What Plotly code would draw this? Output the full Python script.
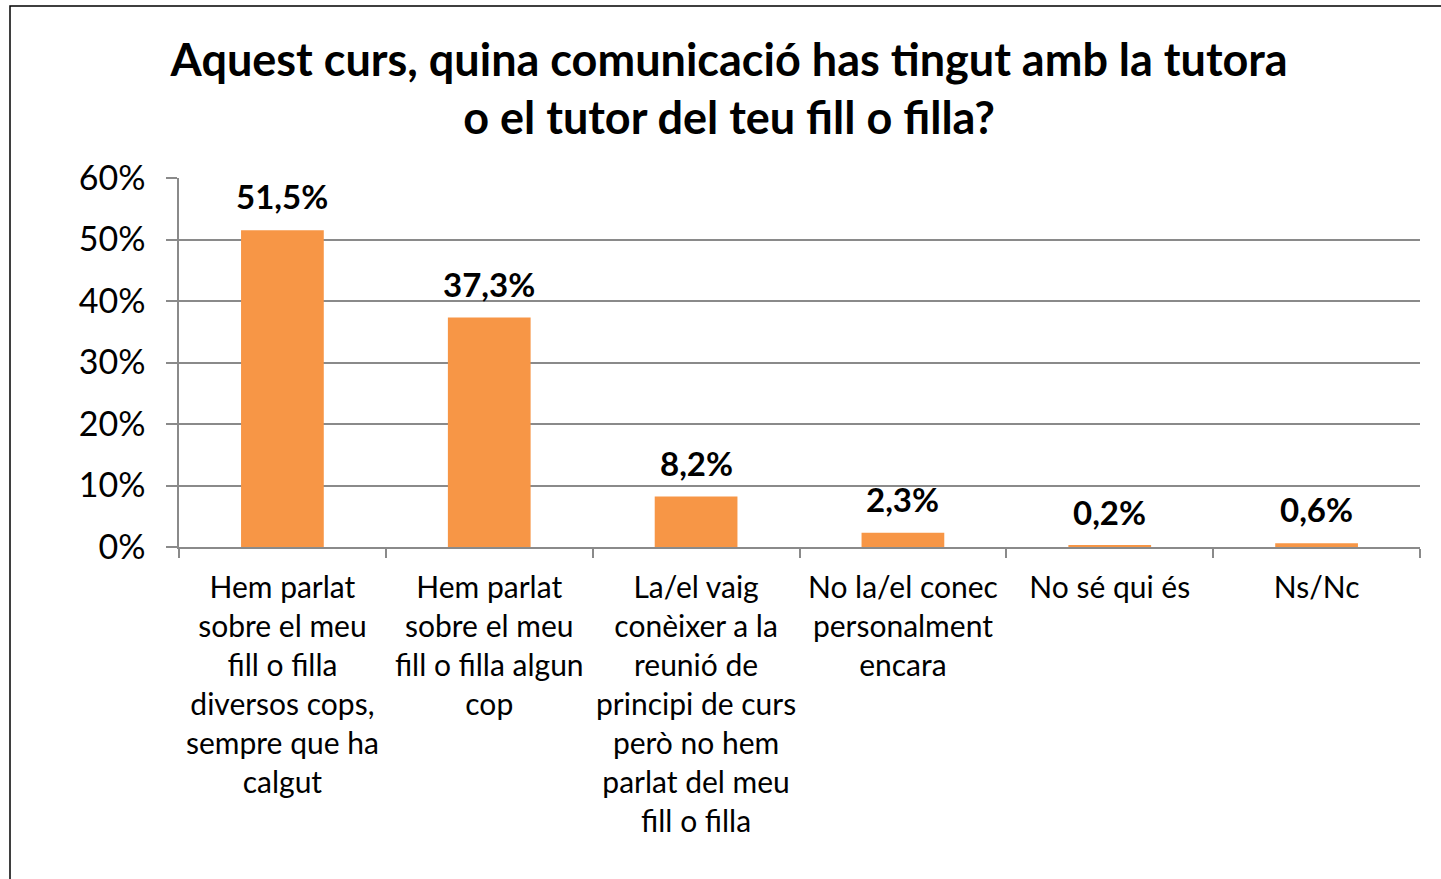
import plotly.graph_objects as go

# Data
categories = [
    "Hem parlat<br>sobre el meu<br>fill o filla<br>diversos cops,<br>sempre que ha<br>calgut",
    "Hem parlat<br>sobre el meu<br>fill o filla algun<br>cop",
    "La/el vaig<br>conèixer a la<br>reunió de<br>principi de curs<br>però no hem<br>parlat del meu<br>fill o filla",
    "No la/el conec<br>personalment<br>encara",
    "No sé qui és",
    "Ns/Nc",
]
values = [51.5, 37.3, 8.2, 2.3, 0.2, 0.6]
y_ticks = [0, 10, 20, 30, 40, 50, 60]
y_tick_text = [f"{t}%" for t in y_ticks]

title = "Aquest curs, quina comunicació has tingut amb la tutora<br>o el tutor del teu fill o filla?"

ORANGE = "#F79646"
GRID = "#8A8A8A"
FONT = "Lato"

labels = [f"{v:.1f}".replace(".", ",") + "%" for v in values]

fig = go.Figure()
fig.add_trace(go.Bar(
    x=categories,
    y=values,
    marker=dict(color=ORANGE, line=dict(width=0)),
    hoverinfo="skip",
))

for cat, v, lab in zip(categories, values, labels):
    fig.add_annotation(
        x=cat, y=v, text=f"<b>{lab}</b>",
        showarrow=False, yanchor="bottom", yshift=12,
        font=dict(family=FONT, size=33, color="#000000"),
    )

fig.update_layout(
    width=1441,
    height=879,
    paper_bgcolor="white",
    plot_bgcolor="white",
    showlegend=False,
    bargap=0.6,
    margin=dict(l=179, r=21, t=178, b=332),
    title=dict(
        text=f"<b>{title}</b>",
        x=0.506, xref="container", xanchor="center",
        y=0.914, yref="container", yanchor="middle",
        font=dict(family=FONT, size=45, color="#000000"),
    ),
    font=dict(family=FONT, color="#000000"),
    xaxis=dict(
        type="category",
        showline=True, linecolor=GRID, linewidth=1.5,
        ticks="outside", tickson="boundaries", ticklen=9,
        tickcolor=GRID, tickwidth=1.5,
        tickfont=dict(family=FONT, size=30, color="#000000"),
        ticklabelstandoff=13,
        showgrid=False,
        tickangle=0,
    ),
    yaxis=dict(
        range=[0, 60],
        tickvals=y_ticks,
        ticktext=y_tick_text,
        showline=True, linecolor=GRID, linewidth=1.5,
        ticks="outside", ticklen=11, tickcolor=GRID, tickwidth=1.5,
        ticklabelstandoff=14,
        showgrid=True, gridcolor=GRID, gridwidth=1.5,
        zeroline=False,
        tickfont=dict(family=FONT, size=34, color="#000000"),
    ),
    # outer frame of the chart area
    shapes=[dict(
        type="rect", xref="paper", yref="paper",
        x0=(10 - 179) / 1241, x1=(1445 - 179) / 1241,
        y0=-1.0, y1=(547 - 6) / 369,
        line=dict(color="#000000", width=1.5), fillcolor="rgba(0,0,0,0)",
        layer="below",
    )],
)

# drop the default page margin so the figure sits at the window's corner
fig.write_html(
    "out.html",
    config={"displayModeBar": False},
    post_script="document.body.style.margin='0';",
)
